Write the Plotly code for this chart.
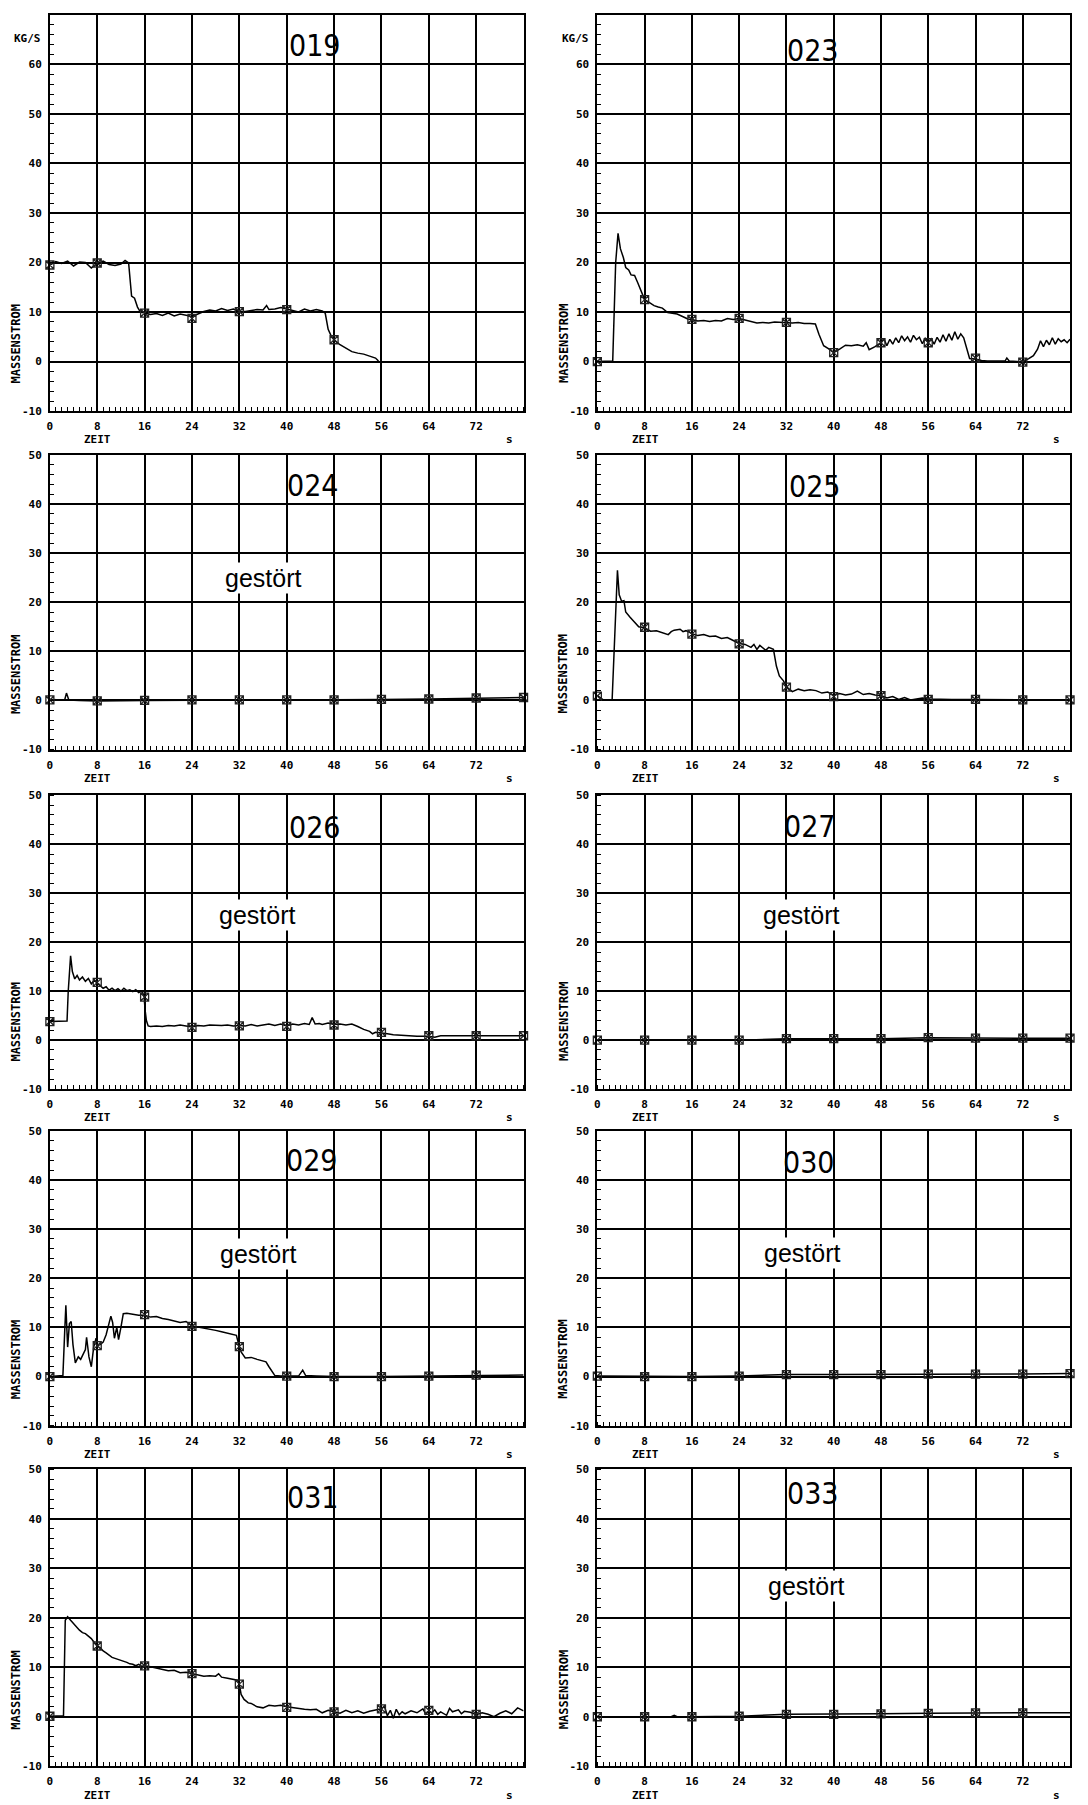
import plotly.graph_objects as go

W, H = 1088, 1805

# ---------------- data ----------------
x_ticks = [0, 8, 16, 24, 32, 40, 48, 56, 64, 72]
y_ticks_top = [-10, 0, 10, 20, 30, 40, 50, 60]
y_ticks = [-10, 0, 10, 20, 30, 40, 50]

t_019 = [0, 1, 2, 3, 4, 5, 6, 7, 8, 9, 10, 11, 12, 12.7, 13.3, 13.8, 14.3, 14.8, 15.3, 16, 17, 18, 19, 20,
         21, 22, 23, 24, 25, 26, 27, 28, 29, 30, 31, 32, 33, 34, 35, 36, 36.6, 37, 38, 39, 40, 41, 42, 43,
         44, 45, 46, 46.5, 47, 47.5, 48, 49, 50, 51, 52, 53, 54, 55, 55.5]
v_019 = [19.5, 20.2, 19.8, 20.3, 19.3, 20.1, 20.0, 18.9, 19.8, 20.3, 19.6, 19.4, 19.7, 20.4, 19.9, 13.2,
         12.8, 11.0, 10.0, 9.8, 9.5, 9.7, 9.3, 9.8, 9.2, 9.6, 9.4, 9.1, 9.6, 10.1, 10.4, 10.2, 10.7, 10.3,
         10.6, 10.1, 10.1, 10.3, 10.5, 10.4, 11.3, 10.5, 10.6, 10.9, 10.6, 10.3, 10.0, 10.6, 10.2, 10.5,
         10.2, 9.8, 6.5, 5.2, 4.4, 3.4, 2.7, 2.0, 1.7, 1.5, 1.1, 0.7, 0.1]
mt_019 = [0, 8, 16, 24, 32, 40, 48]
mv_019 = [19.5, 19.9, 9.8, 8.7, 10.1, 10.5, 4.4]

t_023 = [0, 1, 2, 2.6, 3.1, 3.5, 3.9, 4.4, 4.8, 5.3, 5.7, 6.3, 6.8, 7.3, 8, 8.7, 9.6, 10.3, 11, 11.9, 12.8,
         13.5, 14.6, 15.3, 16, 17, 18, 19, 20, 21, 22, 23, 24, 25, 26, 27, 28, 29, 30, 31, 32, 33, 34, 35,
         36, 36.9, 37.5, 38.3, 39.1, 40, 41, 42, 43, 44, 45, 45.5, 46, 47, 48, 48.5, 49, 49.5, 50, 50.5, 51,
         51.5, 52, 52.5, 53, 53.5, 54, 54.5, 55, 55.5, 56, 56.5, 57, 57.5, 58, 58.5, 59, 59.5, 60, 60.5, 61,
         61.5, 62, 62.5, 63, 64, 65, 66, 67, 68, 69, 69.3, 69.7, 71, 72, 73, 73.8, 74.5, 75, 75.5, 76, 76.5,
         77, 77.5, 78, 78.5, 79, 79.5, 80]
v_023 = [0, 0, 0, 0.1, 20, 25.9, 22.8, 21, 19.0, 18.5, 17.5, 17.4, 16, 14.5, 12.5, 12.0, 11.3, 11.0, 10.8,
         9.9, 9.8, 9.6, 9.0, 8.6, 8.5, 8.2, 8.3, 8.1, 8.3, 8.2, 8.7, 8.5, 8.7, 8.4, 8.0, 7.8, 7.9, 7.8, 8.0,
         7.9, 7.9, 7.8, 7.9, 7.7, 7.7, 7.6, 5.5, 3.2, 2.6, 1.8, 2.5, 3.3, 3.2, 3.4, 3.1, 3.8, 2.4, 3.0, 3.8,
         4.6, 3.2, 4.5, 3.5, 4.8, 3.8, 5.2, 4.2, 5.0, 3.9, 5.3, 4.4, 4.9, 3.6, 4.8, 3.8, 4.6, 3.5, 4.9, 3.9,
         5.4, 4.1, 5.6, 4.3, 6.0, 4.5, 5.6, 4.8, 2.5, 0.6, 0.5, 0.2, 0.1, 0.1, 0.1, 0.1, 0.7, 0.1, 0.0, -0.1,
         0.6, 1.2, 2.5, 4.2, 3.0, 4.3, 3.4, 4.8, 3.5, 4.6, 4.0, 4.4, 3.8, 4.5]
mt_023 = [0, 8, 16, 24, 32, 40, 48, 56, 64, 72]
mv_023 = [0, 12.5, 8.5, 8.7, 7.9, 1.8, 3.8, 3.8, 0.7, -0.1]

t_024 = [0, 1, 2.5, 2.8, 3.2, 5, 8, 16, 24, 32, 40, 48, 56, 64, 72, 80]
v_024 = [0.2, 0.1, 0.1, 1.5, 0.1, 0.0, -0.1, 0.0, 0.1, 0.1, 0.1, 0.1, 0.2, 0.3, 0.5, 0.6]
mt_024 = [0, 8, 16, 24, 32, 40, 48, 56, 64, 72, 80]
mv_024 = [0.1, -0.1, 0.0, 0.1, 0.1, 0.1, 0.1, 0.2, 0.3, 0.5, 0.6]

t_025 = [0, 0.5, 1, 2.5, 2.9, 3.2, 3.4, 3.7, 4.1, 4.5, 4.8, 5.5, 6.2, 7, 8, 9, 10, 11, 12, 12.5, 13, 14,
         14.5, 15, 16, 17, 18, 19, 20, 21, 22, 23, 24, 25, 26, 26.5, 27, 27.5, 28, 28.5, 29, 29.5, 29.8,
         30.3, 30.8, 31.5, 32, 33, 34, 35, 36, 37, 38, 39, 40, 41, 42, 43, 44, 45, 46, 47, 48, 49, 50, 51,
         52, 53, 54, 55, 56, 58, 60, 64, 72, 80]
v_025 = [1.0, 0.5, 0.1, 0.1, 12, 22, 26.5, 21.5, 20.2, 20.3, 18, 17, 16, 15, 14.8, 14.1, 14.2, 13.8, 13.4,
         14.0, 14.3, 14.5, 14.0, 14.2, 13.6, 13.2, 13.4, 13.0, 13.1, 12.6, 12.8, 12.2, 11.6, 11.4, 10.8,
         11.4, 10.4, 11.2, 10.7, 10.2, 10.8, 10.5, 10.4, 7.0, 5.0, 4.0, 2.8, 1.8, 2.3, 2.0, 2.2, 2.0, 1.5,
         1.7, 1.0, 1.4, 1.1, 1.3, 1.9, 1.2, 1.4, 1.1, 1.0, 0.5, 0.8, 0.2, 0.6, 0.1, 0.3, 0.5, 0.3, 0.2, 0.2,
         0.2, 0.1, 0.1]
mt_025 = [0, 8, 16, 24, 32, 40, 48, 56, 64, 72, 80]
mv_025 = [0.9, 14.9, 13.5, 11.5, 2.7, 0.8, 1.0, 0.2, 0.2, 0.1, 0.1]

t_026 = [0, 1, 2, 2.9, 3.1, 3.5, 3.8, 4.2, 4.6, 5.0, 5.5, 6.0, 6.5, 7.0, 7.5, 8.0, 8.5, 9.0, 9.5, 10, 10.5,
         11, 11.5, 12, 12.5, 13, 13.5, 14, 14.5, 15, 15.5, 15.9, 16.1, 16.3, 16.6, 17, 18, 19, 20, 21, 22,
         23, 24, 25, 26, 27, 28, 29, 30, 31, 32, 33, 34, 35, 36, 37, 38, 39, 40, 41, 42, 43, 43.8, 44.3,
         44.8, 45.5, 46, 47, 48, 49, 50, 51, 52, 53, 54, 54.5, 55, 56, 57, 58, 59, 60, 62, 64, 65, 66, 68,
         72, 80]
v_026 = [3.8, 3.8, 3.8, 3.9, 10, 17.2, 14, 12.5, 13.2, 12.3, 12.9, 12.0, 12.6, 11.5, 12.2, 11.6, 11.0,
         10.6, 10.9, 10.2, 10.6, 10.1, 10.5, 10.0, 10.6, 10.1, 10.3, 9.9, 10.3, 9.7, 10.0, 9.0, 6.0, 4.0,
         2.9, 2.8, 2.9, 2.8, 3.0, 2.9, 3.1, 2.9, 2.7, 3.0, 2.9, 3.1, 3.0, 3.0, 3.1, 2.9, 3.0, 2.9, 3.2, 2.9,
         3.1, 3.3, 3.0, 3.3, 2.9, 3.3, 3.1, 3.4, 3.2, 4.6, 3.3, 3.4, 3.2, 3.5, 3.2, 3.3, 3.1, 3.3, 2.8, 2.2,
         1.8, 1.3, 1.6, 1.5, 1.3, 1.1, 1.0, 0.9, 0.8, 0.8, 0.6, 0.9, 0.9, 0.9, 0.9]
mt_026 = [0, 8, 16, 24, 32, 40, 48, 56, 64, 72, 80]
mv_026 = [3.8, 11.8, 8.8, 2.6, 2.9, 2.8, 3.1, 1.6, 0.9, 0.9, 0.9]

t_027 = [0, 8, 16, 24, 32, 40, 48, 56, 64, 72, 80]
v_027 = [0.0, 0.0, 0.0, 0.0, 0.3, 0.3, 0.3, 0.5, 0.4, 0.4, 0.4]
mt_027 = [0, 8, 16, 24, 32, 40, 48, 56, 64, 72, 80]
mv_027 = [0.0, 0.0, 0.0, 0.0, 0.3, 0.3, 0.3, 0.5, 0.4, 0.4, 0.4]

t_029 = [0, 1, 2, 2.2, 2.5, 2.7, 3.0, 3.3, 3.6, 3.9, 4.3, 4.8, 5.2, 5.6, 6.0, 6.2, 6.6, 7.0, 7.4, 7.8, 8.0,
         8.5, 9.0, 9.5, 9.9, 10.3, 10.6, 10.9, 11.3, 11.6, 12.0, 12.4, 13, 14, 15, 16, 17, 18, 19, 20, 21,
         22, 23, 24, 25, 26, 27, 28, 29, 30, 31, 31.5, 32, 32.3, 33, 34, 35, 36, 36.5, 37, 37.5, 38, 39, 40,
         42, 42.7, 43.2, 45, 48, 56, 64, 72, 80]
v_029 = [0, 0.1, 0.1, 0.2, 9, 14.5, 6, 10.8, 11.2, 6.5, 2.8, 4.0, 3.5, 4.5, 5.5, 8.0, 4.0, 2.0, 6.0, 7.8,
         6.3, 6.5, 7.0, 8.5, 10.5, 12.3, 11.0, 7.8, 10, 7.5, 10.0, 12.8, 12.9, 12.7, 12.5, 12.5, 12.1, 12.2,
         11.8, 11.6, 11.3, 11.0, 11.2, 10.3, 10.1, 9.9, 9.7, 9.4, 9.1, 8.8, 8.5, 8.4, 6.0, 5.0, 3.8, 3.9,
         3.5, 3.2, 3.0, 2.0, 1.0, 0.2, 0.1, 0.1, 0.1, 1.3, 0.2, 0.1, 0.0, 0.0, 0.1, 0.2, 0.3]
mt_029 = [0, 8, 16, 24, 32, 40, 48, 56, 64, 72]
mv_029 = [0, 6.3, 12.6, 10.2, 6.1, 0.1, 0.0, 0.0, 0.1, 0.3]

t_030 = [0, 8, 16, 24, 32, 40, 48, 56, 64, 72, 80]
v_030 = [0.1, 0.0, 0.0, 0.1, 0.4, 0.4, 0.4, 0.5, 0.5, 0.5, 0.6]
mt_030 = [0, 8, 16, 24, 32, 40, 48, 56, 64, 72, 80]
mv_030 = [0.1, 0.0, 0.0, 0.1, 0.4, 0.4, 0.4, 0.5, 0.5, 0.5, 0.6]

t_031 = [0, 1, 2, 2.3, 2.6, 3, 3.5, 4, 4.5, 5, 5.5, 6, 6.5, 7, 7.5, 8, 8.5, 9, 9.5, 10, 10.5, 11, 11.5,
         12, 12.5, 13, 13.5, 14, 14.5, 15, 15.5, 16, 17, 18, 19, 20, 21, 22, 23, 24, 25, 26, 27, 28, 28.5,
         29, 30, 31, 31.7, 32, 32.3, 32.8, 33.5, 34, 35, 36, 36.5, 37, 38, 39, 40, 41, 42, 43, 44, 45, 46,
         47, 48, 49, 50, 51, 52, 53, 54, 55, 56, 56.5, 57, 57.5, 58, 58.5, 59, 59.5, 60, 61, 62, 63, 63.5,
         64, 64.5, 65, 65.5, 66, 67, 67.5, 68, 69, 69.5, 70, 71, 72, 73, 74, 75, 76, 77, 78, 79, 80]
v_031 = [0.1, 0.1, 0.1, 0.2, 19.5, 20.2, 19.5, 18.8, 18.2, 17.5, 17.0, 16.8, 16.3, 15.8, 15.0, 14.3, 14.0,
         13.3, 12.9, 12.4, 12.0, 11.8, 11.6, 11.5, 11.2, 11.0, 10.7, 10.6, 10.3, 10.6, 10.2, 10.3, 10.1,
         9.8, 9.6, 9.3, 9.4, 8.9, 9.0, 8.7, 8.4, 8.2, 8.3, 8.2, 8.7, 8.0, 7.8, 7.5, 7.4, 6.6, 4.5, 3.5, 2.8,
         2.7, 2.0, 1.8, 2.0, 2.3, 2.2, 2.3, 2.0, 1.8, 1.6, 1.5, 1.4, 1.5, 0.8, 1.3, 1.0, 0.7, 1.3, 0.8, 1.2,
         0.7, 1.1, 1.4, 1.6, 2.1, 0.2, 1.3, -0.3, 1.5, 0.4, 1.0, 0.6, 1.2, 0.8, 1.6, 0.5, 1.2, 0.8, 1.4, 0.5,
         1.0, 0.3, 1.7, 1.0, 1.4, 0.6, 1.1, 0.9, 0.4, 0.8, 0.5, 0.0, 0.7, 1.2, 0.6, 1.8, 1.2]
mt_031 = [0, 8, 16, 24, 32, 40, 48, 56, 64, 72]
mv_031 = [0.1, 14.3, 10.3, 8.7, 6.6, 1.9, 1.0, 1.6, 1.3, 0.5]

t_033 = [0, 8, 12.5, 13, 13.5, 16, 24, 32, 40, 48, 56, 64, 72, 80]
v_033 = [0.0, 0.0, 0.0, 0.3, 0.0, 0.0, 0.1, 0.5, 0.5, 0.6, 0.7, 0.8, 0.8, 0.8]
mt_033 = [0, 8, 16, 24, 32, 40, 48, 56, 64, 72]
mv_033 = [0.0, 0.0, 0.0, 0.1, 0.5, 0.5, 0.6, 0.7, 0.8, 0.8]

panels = [
    ("019", t_019, v_019, mt_019, mv_019, False),
    ("023", t_023, v_023, mt_023, mv_023, False),
    ("024", t_024, v_024, mt_024, mv_024, True),
    ("025", t_025, v_025, mt_025, mv_025, False),
    ("026", t_026, v_026, mt_026, mv_026, True),
    ("027", t_027, v_027, mt_027, mv_027, True),
    ("029", t_029, v_029, mt_029, mv_029, True),
    ("030", t_030, v_030, mt_030, mv_030, True),
    ("031", t_031, v_031, mt_031, mv_031, False),
    ("033", t_033, v_033, mt_033, mv_033, True),
]

# ---------------- layout geometry (pixels) ----------------
col_px = [(47, 522), (596, 1070)]
row_px = [(9, 408), (452, 749), (795, 1091), (1133, 1430), (1474, 1773)]
title_px = [(313, 40), (812, 45), (311, 483), (814, 484), (313, 827),
            (809, 826), (310, 1163), (808, 1165), (311, 1502), (812, 1498)]
gest_px = {2: (261, 576), 4: (255, 916), 5: (800, 916), 6: (256, 1257), 7: (801, 1256), 9: (805, 1591)}
mass_y_px = [340, 673, 1023, 1363, 1696]


def px(x):
    return x / W


def py(y):
    return 1 - y / H


TICKFONT = dict(family="DejaVu Sans Mono", size=11, color="black", weight="bold")
TITLEFONT = dict(family="Liberation Sans Narrow, DejaVu Sans Condensed, Liberation Sans", size=30, color="black")
GESTFONT = dict(family="Liberation Sans, Arial, sans-serif", size=25, color="black")

fig = go.Figure()
annotations = []
layout = {}

for i, (name, t, v, mt, mv, gest) in enumerate(panels):
    r, c = divmod(i, 2)
    k = i + 1
    xa = "xaxis" if k == 1 else f"xaxis{k}"
    ya = "yaxis" if k == 1 else f"yaxis{k}"
    xr = "x" if k == 1 else f"x{k}"
    yr = "y" if k == 1 else f"y{k}"
    x0, x1 = col_px[c]
    top, bot = row_px[r]
    ymax = 70 if r == 0 else 50
    yt = y_ticks_top if r == 0 else y_ticks

    layout[xa] = dict(
        domain=[px(x0), px(x1)], anchor=yr, range=[0, 80],
        tickmode="array", tickvals=x_ticks, ticktext=[str(s) for s in x_ticks],
        showgrid=True, gridcolor="black", gridwidth=1.5,
        showline=True, linecolor="black", linewidth=1.8, mirror=True,
        zeroline=False, ticks="", tickfont=TICKFONT, ticklabelstandoff=4,
        minor=dict(tickmode="linear", tick0=0, dtick=1, ticks="inside", ticklen=4,
                   tickcolor="black", tickwidth=1.2, showgrid=False),
        fixedrange=True,
    )
    layout[ya] = dict(
        domain=[py(bot), py(top)], anchor=xr, range=[-10, ymax],
        tickmode="array", tickvals=yt, ticktext=[str(s) for s in yt],
        showgrid=True, gridcolor="black", gridwidth=1.5,
        showline=True, linecolor="black", linewidth=1.8, mirror=True,
        zeroline=False, ticks="", tickfont=TICKFONT, ticklabelstandoff=4,
        minor=dict(tickmode="linear", tick0=0, dtick=2, ticks="inside", ticklen=4,
                   tickcolor="black", tickwidth=1.2, showgrid=False),
        fixedrange=True,
    )

    fig.add_trace(go.Scatter(x=t, y=v, mode="lines", xaxis=xr, yaxis=yr,
                             line=dict(color="black", width=1.5), showlegend=False))
    fig.add_trace(go.Scatter(x=mt, y=mv, mode="markers", xaxis=xr, yaxis=yr, cliponaxis=False,
                             marker=dict(symbol="square-x-open", size=8, color="#222",
                                         line=dict(width=1.3, color="#222")),
                             showlegend=False))

    tx, ty = title_px[i]
    annotations.append(dict(text=name, x=px(tx), y=py(ty), xref="paper", yref="paper",
                            showarrow=False, font=TITLEFONT, xanchor="center", yanchor="middle"))
    if gest:
        gx, gy = gest_px[i]
        annotations.append(dict(text="gestört", x=px(gx), y=py(gy), xref="paper", yref="paper",
                                showarrow=False, font=GESTFONT, xanchor="center", yanchor="middle",
                                bgcolor="white"))
    # axis captions
    zx = x0 + 48
    annotations.append(dict(text="ZEIT", x=px(zx), y=py(bot + 29), xref="paper", yref="paper",
                            showarrow=False, font=TICKFONT, xanchor="center", yanchor="middle"))
    annotations.append(dict(text="s", x=px(x1 - 14), y=py(bot + 29), xref="paper", yref="paper",
                            showarrow=False, font=TICKFONT, xanchor="center", yanchor="middle"))
    annotations.append(dict(text="MASSENSTROM", x=px(x0 - 34), y=py(mass_y_px[r]), xref="paper",
                            yref="paper", showarrow=False, textangle=-90,
                            font=dict(family="DejaVu Sans Mono", size=12, color="black", weight="bold"),
                            xanchor="center", yanchor="middle"))
    if r == 0:
        annotations.append(dict(text="KG/S", x=px(x0 - 22), y=py(33), xref="paper", yref="paper",
                                showarrow=False, font=TICKFONT, xanchor="center", yanchor="middle"))

fig.update_layout(
    width=W, height=H, autosize=False,
    margin=dict(l=0, r=0, t=0, b=0),
    paper_bgcolor="white", plot_bgcolor="white",
    annotations=annotations, showlegend=False,
    **layout,
)

fig.write_html(
    "out.html",
    config={"displayModeBar": False},
    post_script="document.body.style.margin='0px';document.body.style.padding='0px';"
                "document.documentElement.style.overflow='hidden';",
)
